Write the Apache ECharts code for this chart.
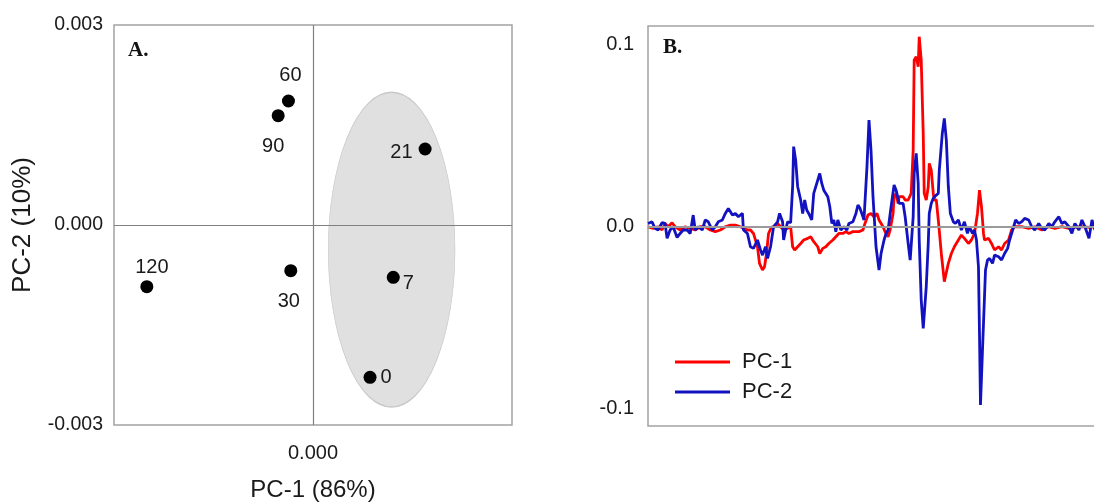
<!DOCTYPE html>
<html>
<head>
<meta charset="utf-8">
<script src="https://cdn.jsdelivr.net/npm/echarts@6/dist/echarts.min.js"></script>
<style>
html,body{margin:0;padding:0;background:#fff;}
#chart{width:1094px;height:504px;}
</style>
</head>
<body>
<div id="chart"></div>
<script>
// ---- Panel A: PCA scores ----
const sampleLabels = ['0', '7', '21', '30', '60', '90', '120'];
const pc1Scores = [0.00172, 0.00242, 0.00338, -0.00067, -0.00074, -0.00105, -0.00501];
const pc2Scores = [-0.002285, -0.000785, 0.00114, -0.000685, 0.00186, 0.00164, -0.000925];
// confidence ellipse: centre x, centre y, radius x, radius y
const groupEllipse = [0.00237, -0.00037, 0.00191, 0.00236];
const scoreTicksY = [-0.003, 0, 0.003];

// ---- Panel B: loadings ----
const pc1LoadX = [0,5,10,14,17,20,24,27,32,37,42,47,52,57,62,67,72,77,82,87,92,95,99,102,105,109,111,114,116,118,120,123,125,129,132,135,139,142,144,146,149,152,155,159,162,165,169,171,174,177,180,184,187,190,194,197,200,204,207,210,214,216,219,222,225,228,230,234,236,239,241,244,245,247,249,250,254,256,259,262,264,265,267,269,270,272,274,275,277,279,280,282,284,285,287,289,292,295,299,302,305,309,312,315,319,322,325,328,330,332,334,335,339,342,345,349,352,355,359,362,365,372,379,385,392,399,405,412,419,425,432,439,445];
const pc1LoadY = [0,-0.0009,0,-0.0018,0.0018,0,0.0022,0,-0.0018,0,-0.0009,-0.0018,0,0,-0.0018,-0.0027,-0.0018,0,0.0009,0.0009,0,-0.0009,-0.0018,-0.0018,-0.0037,-0.011,-0.0201,-0.0238,-0.022,-0.0147,-0.0037,0,-0.0004,0.0018,0,-0.0018,-0.0009,0,-0.011,-0.0128,-0.011,-0.0092,-0.0073,-0.0064,-0.0055,-0.0082,-0.011,-0.0147,-0.0119,-0.011,-0.0092,-0.0073,-0.0055,-0.0037,-0.0037,-0.0027,-0.0037,-0.0027,-0.0027,-0.0027,-0.0018,0.0018,0.0064,0.0073,0.0055,0.0073,0.0037,0,-0.0027,-0.0055,-0.0018,0.0073,0.0165,0.0183,0.0128,0.0165,0.0165,0.0147,0.0147,0.0183,0.0421,0.0916,0.0934,0.0879,0.1044,0.0916,0.0513,0.0183,0.0147,0.022,0.0348,0.0311,0.0183,0.0147,0.0147,0.0037,-0.0147,-0.0302,-0.0201,-0.0147,-0.011,-0.0073,-0.0046,-0.0064,-0.0092,-0.0073,-0.0037,0.0073,0.0201,0.011,-0.0037,-0.0073,-0.0064,-0.0092,-0.0128,-0.011,-0.0128,-0.0092,-0.0073,-0.0018,0,0,-0.0009,0,-0.0018,0,-0.0009,0,-0.0009,-0.0004,0,-0.0004,0];
const pc2LoadX = [0,4,7,10,14,17,19,22,25,29,32,35,39,42,45,47,50,54,57,60,64,67,70,74,77,80,84,87,90,94,95,99,102,105,109,112,114,117,119,122,125,129,131,134,135,137,139,142,144,145,147,149,152,154,156,158,160,163,165,169,171,173,175,179,181,183,185,187,189,192,195,198,200,204,207,209,211,214,215,218,220,222,224,227,230,232,235,237,239,242,245,247,250,254,256,259,261,264,265,267,269,270,272,274,277,279,280,282,284,287,289,290,293,295,297,299,301,304,306,309,312,315,318,320,323,325,327,329,330,331,333,335,336,338,340,343,345,349,352,355,358,360,364,366,369,372,375,379,382,385,389,392,395,399,402,405,409,412,415,419,422,425,429,432,435,439,442,445];
const pc2LoadY = [0.0018,0.0027,-0.0009,-0.0018,0.0022,0.0018,-0.0064,-0.0018,0,-0.0059,-0.0037,-0.0018,-0.0018,-0.0037,0.0064,-0.0018,0,-0.0018,0.0037,0.0027,-0.0018,0,0.0027,0.0037,0.0073,0.0101,0.0064,0.0073,0.0055,0.0073,-0.0018,-0.0037,-0.011,-0.0119,-0.0073,-0.0128,-0.0156,-0.011,-0.0174,-0.011,0,0.0027,0.0073,0.0027,-0.0073,-0.0018,0.0027,0.0022,0.022,0.044,0.0366,0.022,0.0147,0.0073,0.0147,0.0092,0.0073,0.0037,0.0183,0.0256,0.0293,0.0238,0.0201,0.0165,0.011,0.0018,0.0037,-0.0027,0.0037,-0.0018,0,-0.0018,0.0018,0.0027,0.0073,0.0119,0.0101,0.0055,0.0037,0.033,0.0586,0.0421,0.0165,-0.011,-0.0238,-0.0147,-0.0073,-0.0037,-0.0018,0.011,0.0229,0.0201,0.0128,0.0128,0.0055,-0.0092,-0.0183,0.0055,0.0293,0.0403,0.0238,-0.0073,-0.0403,-0.0559,-0.033,-0.0092,0.0073,0.0128,0.0156,0.0174,0.0183,0.0311,0.0513,0.0595,0.0476,0.022,0.0073,0.0027,0.0018,0.0037,-0.0018,0.0027,-0.0037,0,-0.0037,-0.0018,-0.0073,-0.022,-0.0586,-0.098,-0.0678,-0.0385,-0.0238,-0.0183,-0.0174,-0.0201,-0.0156,-0.0165,-0.0183,-0.0147,-0.0119,-0.0073,0,0.0037,0.0018,0.0027,0.0046,0.0037,0,-0.0018,0.0018,-0.0009,-0.0018,0.0018,0,0.0027,0.0055,0.0018,0.0027,0,-0.0037,0.0018,-0.0018,0.0037,0,-0.0064,0.0037,-0.0018];
const loadTicksY = [-0.1, 0, 0.1];

const FONT = 'Liberation Sans, Arial, sans-serif';
const TEXT = '#1a1a1a';
const RED = '#ff0000';
const BLUE = '#1212c0';
const pair = (xs, ys) => xs.map((x, i) => [x, ys[i]]);

const labelPos = {
  '0':   {position: 'right', distance: 4},
  '7':   {position: 'right', distance: 3, offset: [0, 6]},
  '21':  {position: 'left', distance: 6, offset: [0, 3]},
  '30':  {position: 'bottom', distance: 14, offset: [-2, 0]},
  '60':  {position: 'top', distance: 9, offset: [2, 0]},
  '90':  {position: 'bottom', distance: 14, offset: [-5, 0]},
  '120': {position: 'top', distance: 3, offset: [5, 0]}
};

const scatterData = sampleLabels.map((lab, i) => ({
  value: [pc1Scores[i], pc2Scores[i]],
  name: lab,
  label: Object.assign({show: true, formatter: lab, color: TEXT, fontSize: 20, fontFamily: FONT}, labelPos[lab])
}));

const chart = echarts.init(document.getElementById('chart'), null, {renderer: 'canvas'});

const option = {
  animation: false,
  backgroundColor: '#ffffff',
  textStyle: {fontFamily: FONT},
  grid: [
    {left: 114, top: 25, width: 398, height: 400, show: true, borderColor: '#a3a3a3', borderWidth: 1.5,
     backgroundColor: 'transparent', containLabel: false, outerBoundsMode: 'none'},
    {left: 648, top: 26, right: -2, height: 400, show: true, borderColor: '#a3a3a3', borderWidth: 1.5,
     backgroundColor: 'transparent', containLabel: false, outerBoundsMode: 'none'}
  ],
  xAxis: [
    {
      gridIndex: 0, type: 'value', min: -0.006, max: 0.006, interval: 0.006,
      axisLine: {show: false}, axisTick: {show: false}, splitLine: {show: false},
      axisLabel: {
        color: TEXT, fontSize: 20, fontFamily: FONT, margin: 18,
        formatter: v => (Math.abs(v) < 1e-9 ? '0.000' : '')
      },
      name: 'PC-1 (86%)', nameLocation: 'middle', nameGap: 53,
      nameTextStyle: {color: TEXT, fontSize: 24, fontFamily: FONT}
    },
    {
      gridIndex: 1, type: 'value', min: 0, max: 446,
      axisLine: {show: false}, axisTick: {show: false}, splitLine: {show: false},
      axisLabel: {show: false}
    }
  ],
  yAxis: [
    {
      gridIndex: 0, type: 'value', min: -0.003, max: 0.003,
      axisLine: {show: false}, axisTick: {show: false}, splitLine: {show: false},
      axisLabel: {
        color: TEXT, fontSize: 19.5, fontFamily: FONT, margin: 11,
        customValues: scoreTicksY,
        formatter: v => v.toFixed(3)
      },
      name: 'PC-2 (10%)', nameLocation: 'middle', nameGap: 78,
      nameTextStyle: {color: TEXT, fontSize: 26, fontFamily: FONT}
    },
    {
      gridIndex: 1, type: 'value', min: -0.1095, max: 0.1103,
      axisLine: {show: false}, axisTick: {show: false}, splitLine: {show: false},
      axisLabel: {
        color: TEXT, fontSize: 20, fontFamily: FONT, margin: 14,
        customValues: loadTicksY,
        formatter: v => v.toFixed(1)
      }
    }
  ],
  legend: {
    orient: 'vertical', left: 670, top: 346, padding: 5,
    icon: 'rect', itemWidth: 55, itemHeight: 3, itemGap: 8,
    data: ['PC-1', 'PC-2'],
    textStyle: {color: TEXT, fontSize: 22, lineHeight: 22, fontFamily: FONT, padding: [0, 0, 0, 7]}
  },
  graphic: [
    {type: 'text', left: 128, top: 40, style: {text: 'A.', font: 'bold 21px "Liberation Serif", "Times New Roman", serif', fill: '#111'}},
    {type: 'text', left: 663, top: 37, style: {text: 'B.', font: 'bold 21px "Liberation Serif", "Times New Roman", serif', fill: '#111'}}
  ],
  series: [
    {
      type: 'custom', xAxisIndex: 0, yAxisIndex: 0, z: 1, silent: true,
      data: [groupEllipse],
      renderItem: (params, api) => {
        const c = api.coord([api.value(0), api.value(1)]);
        const rx = api.size([api.value(2), 0])[0];
        const ry = api.size([0, api.value(3)])[1];
        return {
          type: 'circle', x: c[0], y: c[1], scaleX: rx / ry, scaleY: 1,
          shape: {cx: 0, cy: 0, r: ry},
          style: {fill: '#e0e0e0', stroke: '#c8c8c8', lineWidth: 1.5, strokeNoScale: true}
        };
      }
    },
    {
      type: 'line', xAxisIndex: 0, yAxisIndex: 0, z: 2, data: [], silent: true,
      markLine: {
        silent: true, symbol: 'none', label: {show: false},
        lineStyle: {color: '#808080', width: 1.2, type: 'solid'},
        data: [{xAxis: 0}, {yAxis: 0}]
      }
    },
    {
      type: 'scatter', xAxisIndex: 0, yAxisIndex: 0, z: 3,
      symbol: 'circle', symbolSize: 13,
      itemStyle: {color: '#000', opacity: 1},
      data: scatterData
    },
    {
      type: 'line', xAxisIndex: 1, yAxisIndex: 1, z: 2, data: [], silent: true,
      markLine: {
        silent: true, symbol: 'none', label: {show: false},
        lineStyle: {color: '#9a9a9a', width: 2, type: 'solid'},
        data: [{yAxis: 0}]
      }
    },
    {
      name: 'PC-1', type: 'line', xAxisIndex: 1, yAxisIndex: 1, z: 3,
      symbol: 'none', smooth: false,
      lineStyle: {color: RED, width: 2.8},
      itemStyle: {color: RED},
      data: pair(pc1LoadX, pc1LoadY)
    },
    {
      name: 'PC-2', type: 'line', xAxisIndex: 1, yAxisIndex: 1, z: 4,
      symbol: 'none', smooth: false,
      lineStyle: {color: BLUE, width: 2.8},
      itemStyle: {color: BLUE},
      data: pair(pc2LoadX, pc2LoadY)
    }
  ]
};
chart.setOption(option);
</script>
</body>
</html>
